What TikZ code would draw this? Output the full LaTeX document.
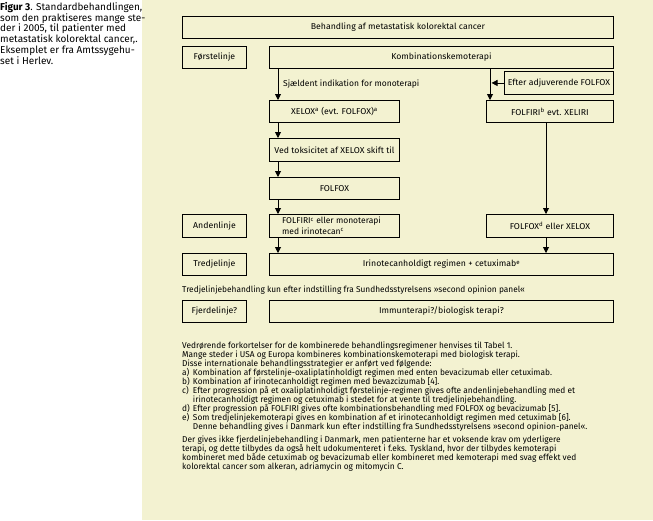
\documentclass[tikz,border=0pt]{standalone}
\usepackage{graphicx}
\usepackage{fontspec}
\setmainfont{Fira Sans}
\usetikzlibrary{arrows.meta}
\definecolor{panel}{RGB}{243,242,209}
\newcommand{\fs}{\fontsize{8.5}{9}\selectfont}
\newcommand{\capfs}{\fontsize{10}{10.8}\selectfont}
\newcommand{\itm}[1]{\makebox[11pt][l]{#1}}
\newcommand{\ind}{\hspace*{11pt}}
\newcommand{\sx}[1]{\scalebox{1.03}[1]{#1}}
\newcommand{\sn}[1]{\scalebox{0.98}[1]{#1}}
\newcommand{\mb}[1]{\makebox[0pt][c]{\sx{#1}}}
\newcommand{\stack}[1]{\vtop{\baselineskip=9pt\lineskiplimit=-50pt\lineskip=0pt\halign{##\hfil\cr#1\crcr}}}
\begin{document}
\begin{tikzpicture}[x=1pt,y=-1pt,
  box/.style={draw=black,line width=0.9pt,inner sep=0pt,anchor=north west,font=\fs,align=center},
  lbl/.style={inner sep=0pt,font=\fs,anchor=base west},
  arr/.style={line width=0.9pt,-{Triangle[length=6pt,width=6pt]}}]
\useasboundingbox (0,0) rectangle (653,520);
\fill[panel] (142,0) rectangle (653,520);
% caption
\node[anchor=north west,inner sep=0pt,align=left,font=\capfs] (cap) at (0,2)
 {\textbf{Figur 3}. Standardbehandlingen,\\som den praktiseres mange ste-\\der i 2005, til patienter med\\metastatisk kolorektal cancer,.\\Eksemplet er fra Amtssygehu-\\set i Herlev.};
% boxes
\node[box,minimum width=431pt,minimum height=22pt] (title) at (182,16) {\mb{Behandling af metastatisk kolorektal cancer}};
\node[box,minimum width=64pt,minimum height=22pt] (first) at (182,46) {\mb{Førstelinje}};
\node[box,minimum width=344pt,minimum height=22pt] (komb) at (269,46) {\mb{Kombinationskemoterapi}};
\node[box,minimum width=109pt,minimum height=23pt] (efter) at (504,71) {\mb{Efter adjuverende FOLFOX}};
\node[box,minimum width=130pt,minimum height=22pt] (xelox) at (269,100) {\mb{XELOX\textsuperscript{a} (evt. FOLFOX)\textsuperscript{a}}};
\node[box,minimum width=127pt,minimum height=22pt] (folfiri) at (486,100) {\mb{FOLFIRI\textsuperscript{b} evt. XELIRI}};
\node[box,minimum width=130pt,minimum height=23pt] (ved) at (269,138) {\mb{Ved toksicitet af XELOX skift til}};
\node[box,minimum width=130pt,minimum height=22pt] (folfox) at (269,177) {\mb{FOLFOX}};
\node[box,minimum width=130pt,minimum height=23pt] (folfiric) at (269,214) {};
\node[inner sep=0pt,anchor=west,align=left,font=\fontsize{8.5}{10.5}\selectfont] (folfirictxt) at ([xshift=13pt]folfiric.west) {FOLFIRI\textsuperscript{c} eller monoterapi\\med irinotecan\textsuperscript{c}};
\node[box,minimum width=64pt,minimum height=23pt] (anden) at (182,214) {\mb{Andenlinje}};
\node[box,minimum width=127pt,minimum height=23pt] (folfoxd) at (486,214) {\mb{FOLFOX\textsuperscript{d} eller XELOX}};
\node[box,minimum width=64pt,minimum height=22pt] (tredje) at (182,253) {\mb{Tredjelinje}};
\node[box,minimum width=344pt,minimum height=22pt] (irino) at (269,253) {\mb{Irinotecanholdigt regimen + cetuximab\textsuperscript{e}}};
\node[box,minimum width=64pt,minimum height=22pt] (fjerde) at (182,300) {\mb{Fjerdelinje?}};
\node[box,minimum width=344pt,minimum height=22pt] (immun) at (269,300) {\mb{Immunterapi?/biologisk terapi?}};
% labels
\node[lbl] (sjl) at (283,86) {Sjældent indikation for monoterapi};
\node[lbl] (panelnote) at (182,292) {\sn{Tredjelinjebehandling kun efter indstilling fra Sundhedsstyrelsens »second opinion panel«}};
% arrows
\coordinate (l) at (278,0);
\coordinate (r) at (490,0);
\coordinate (rr) at (546,0);
\draw[arr] (komb.south -| l) -- (xelox.north -| l);
\draw[arr] (komb.south -| r) -- (folfiri.north -| r);
\draw[arr,shorten >=1.5pt] (efter.west) -- (efter.west -| r);
\draw[arr] (xelox.south -| l) -- (ved.north -| l);
\draw[arr] (ved.south -| l) -- (folfox.north -| l);
\draw[arr] (folfox.south -| l) -- (folfiric.north -| l);
\draw[arr] (folfiric.south -| l) -- (irino.north -| l);
\draw[arr] (folfiri.south -| rr) -- (folfoxd.north -| rr);
\draw[arr] (folfoxd.south -| rr) -- (irino.north -| rr);
% notes
\node[inner sep=0pt,font=\fs,anchor=north west] (notes) at (182,341.5) {\sn{\stack{Vedrørende forkortelser for de kombinerede behandlingsregimener henvises til Tabel 1.\cr
Mange steder i USA og Europa kombineres kombinationskemoterapi med biologisk terapi.\cr
Disse internationale behandlingsstrategier er anført ved følgende:\cr
\itm{a)}Kombination af førstelinje-oxaliplatinholdigt regimen med enten bevacizumab eller cetuximab.\cr
\itm{b)}Kombination af irinotecanholdigt regimen med bevazcizumab [4].\cr
\itm{c)}Efter progression på et oxaliplatinholdigt førstelinje-regimen gives ofte andenlinjebehandling med et\cr
\ind irinotecanholdigt regimen og cetuximab i stedet for at vente til tredjelinjebehandling.\cr
\itm{d)}Efter progression på FOLFIRI gives ofte kombinationsbehandling med FOLFOX og bevacizumab [5].\cr
\itm{e)}Som tredjelinjekemoterapi gives en kombination af et irinotecanholdigt regimen med cetuximab [6].\cr
\ind Denne behandling gives i Danmark kun efter indstilling fra Sundhedsstyrelsens »second opinion-panel«.\cr
\noalign{\vskip4pt}
Der gives ikke fjerdelinjebehandling i Danmark, men patienterne har et voksende krav om yderligere\cr
terapi, og dette tilbydes da også helt udokumenteret i f.eks. Tyskland, hvor der tilbydes kemoterapi\cr
kombineret med både cetuximab og bevacizumab eller kombineret med kemoterapi med svag effekt ved\cr
kolorektal cancer som alkeran, adriamycin og mitomycin C.}}};
\end{tikzpicture}
\end{document}
